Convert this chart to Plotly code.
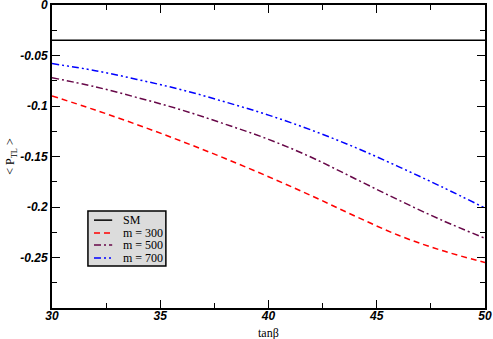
import plotly.graph_objects as go

# tan(beta) grid and polarisation values
tanb = [30, 32, 34, 36, 38, 40, 42, 44, 46, 48, 50]
sm = [-0.035] * len(tanb)
m300 = [-0.090, -0.104, -0.119, -0.135, -0.152, -0.170, -0.189, -0.209, -0.228, -0.243, -0.255]
m500 = [-0.072, -0.081, -0.092, -0.104, -0.118, -0.133, -0.151, -0.172, -0.193, -0.213, -0.231]
m700 = [-0.058, -0.065, -0.074, -0.084, -0.096, -0.109, -0.124, -0.141, -0.160, -0.180, -0.201]

names = ["SM", "m = 300", "m = 500", "m = 700"]
colors = ["black", "#ff0000", "#670748", "#0000ff"]
dashes = ["solid", "6px,4px", "7px,3px,2px,3px", "7px,3px,2px,3px,2px,3px"]

serif = "Liberation Serif, Times New Roman, serif"

fig = go.Figure()
for ys, nm, c, d in zip([sm, m300, m500, m700], names, colors, dashes):
    fig.add_trace(go.Scatter(x=tanb, y=ys, mode="lines", name=nm, line_shape="spline",
                             line=dict(color=c, width=1.5, dash=d)))

# legend box drawn by hand to get the compact xmgrace look
fig.add_shape(type="rect", xref="paper", yref="paper", x0=0.083, x1=0.263, y0=0.139, y1=0.320,
              fillcolor="#dcdcdc", line=dict(color="black", width=1.5), layer="above")
rows = [0.290, 0.2475, 0.208, 0.165]
for r, nm, c, d in zip(rows, names, colors, dashes):
    fig.add_shape(type="line", xref="paper", yref="paper", x0=0.097, x1=0.139, y0=r, y1=r,
                  line=dict(color=c, width=1.5, dash=d), layer="above")
    fig.add_annotation(xref="paper", yref="paper", x=0.159, y=r, text=nm, showarrow=False,
                       xanchor="left", yanchor="middle",
                       font=dict(family=serif, size=12, color="black"))

fig.add_annotation(xref="paper", yref="paper", x=0.5, y=-0.083, text="tanβ", showarrow=False,
                   xanchor="center", yanchor="middle",
                   font=dict(family=serif, size=12, color="black"))

tickfont = dict(family="Liberation Sans", size=12, color="black")
fig.update_layout(
    width=493, height=339,
    margin=dict(l=52, r=8, t=5, b=31),
    plot_bgcolor="white", paper_bgcolor="white",
    showlegend=False,
)
fig.update_xaxes(
    range=[30, 50], tickvals=[30, 35, 40, 45, 50],
    ticktext=["<b><i>%d</i></b>" % v for v in [30, 35, 40, 45, 50]],
    ticks="inside", ticklen=8, tickwidth=1, tickcolor="black",
    minor=dict(dtick=2.5, ticks="inside", ticklen=5, tickcolor="black"),
    showline=True, linecolor="black", linewidth=2, mirror="allticks",
    showgrid=False, zeroline=False, tickfont=tickfont,
    ticklabeloverflow="allow", ticklabelstandoff=-4, automargin=False,
)
yticks = [0, -0.05, -0.1, -0.15, -0.2, -0.25]
fig.update_yaxes(
    range=[-0.3, 0], tickvals=yticks,
    ticktext=["<b><i>%s</i></b>" % s for s in ["0", "-0.05", "-0.1", "-0.15", "-0.2", "-0.25"]],
    ticks="inside", ticklen=8, tickwidth=1, tickcolor="black",
    minor=dict(dtick=0.025, ticks="inside", ticklen=5, tickcolor="black"),
    showline=True, linecolor="black", linewidth=2, mirror="allticks",
    showgrid=False, zeroline=False, tickfont=tickfont,
    ticklabeloverflow="allow", automargin=False,
    title=dict(text="< P<sub>TL</sub> >", font=dict(family=serif, size=12, color="black"), standoff=3),
)

# drop the default 8px body margin so the figure sits at the page corner
fig.write_html("out.html", config={"displayModeBar": False},
               post_script="document.body.style.margin='0';")
